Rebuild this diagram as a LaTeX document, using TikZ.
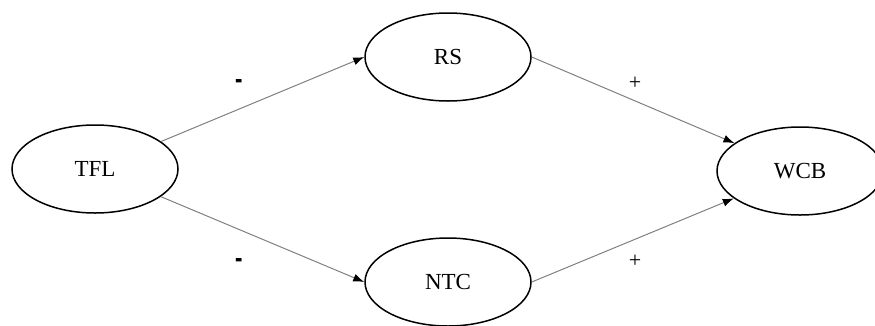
\documentclass[tikz,border=0pt]{standalone}
\usepackage{fontspec}
\usepackage{graphicx}
\setmainfont{Liberation Serif}
\usetikzlibrary{shapes.geometric,arrows.meta}

\tikzset{
  var/.style={ellipse, draw=black, line width=1.5pt, minimum width=166pt,
              minimum height=88pt, inner sep=0pt, font=\fontsize{23}{27}\selectfont},
  link/.style={draw=gray, line width=1pt, -{Latex[black,length=11pt,width=8pt]}},
  sign/.style={font=\fontsize{22}{26}\selectfont, inner sep=0pt}
}

\begin{document}
\begin{tikzpicture}[x=1pt, y=-1pt]
  \useasboundingbox (0,0) rectangle (875,325);

  % constructs
  \node[var] (tfl) at (95,169)  {TFL};
  \node[var] (rs)  at (448,57)  {RS};
  \node[var] (ntc) at (448,282) {NTC};
  \node[var] (wcb) at (800,171) {WCB};

  % paths
  \draw[link] (tfl) -- (rs.west);
  \draw[link] (tfl) -- (ntc.west);
  \draw[link] (rs.east) -- (wcb);
  \draw[link] (ntc.east) -- (wcb);

  % signs of the effects
  \node[sign] (s1) at (239,85)  {\scalebox{1}[1.8]{\textbf{-}}};
  \node[sign] (s2) at (239,264) {\scalebox{1}[1.8]{\textbf{-}}};
  \node[sign] (s3) at (635,83)  {+};
  \node[sign] (s4) at (635,261) {+};
\end{tikzpicture}
\end{document}
